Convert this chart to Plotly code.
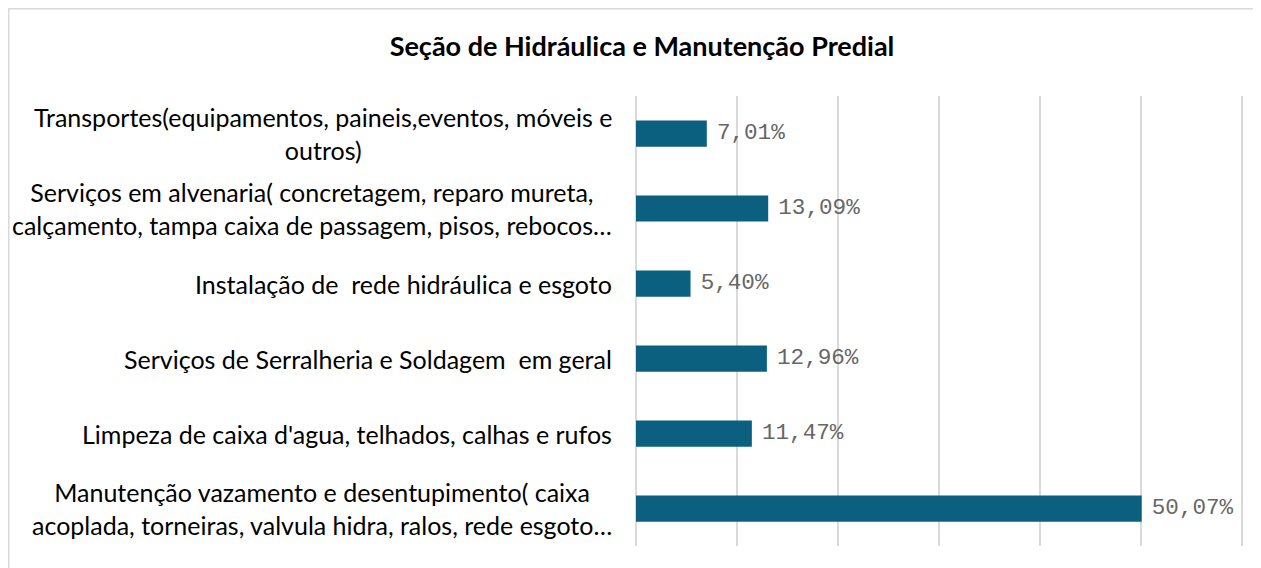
import plotly.graph_objects as go

title = "Seção de Hidráulica e Manutenção Predial"
categories = [
    "Transportes(equipamentos, paineis,eventos, móveis e<br>outros)",
    "Serviços em alvenaria( concretagem, reparo mureta,<br>calçamento, tampa caixa de passagem, pisos, rebocos…",
    "Instalação de  rede hidráulica e esgoto",
    "Serviços de Serralheria e Soldagem  em geral",
    "Limpeza de caixa d'agua, telhados, calhas e rufos",
    "Manutenção vazamento e desentupimento( caixa<br>acoplada, torneiras, valvula hidra, ralos, rede esgoto…",
]
values = [7.01, 13.09, 5.40, 12.96, 11.47, 50.07]
x_ticks = [0, 10, 20, 30, 40, 50, 60]

# The page body has an 8px default margin, so the figure starts at (8, 8).
OFF = 8
W, H = 1261 - OFF, 568 - OFF
X_MAX = 60.3
pw = round(606 * X_MAX / 60)
ml, mt, mb = 636 - OFF, 96 - OFF, 568 - 546
mr = W - ml - pw
ph = H - mt - mb

fig = go.Figure()
fig.add_trace(go.Bar(
    y=categories, x=values, orientation="h",
    marker=dict(color="#0B5F7F", line=dict(width=0)),
    width=0.35,
    texttemplate='<span style="font-size:13px"> </span>%{x:.2f}%',
    textposition="outside",
    textfont=dict(family="Liberation Mono", size=25, color="#666666"),
    cliponaxis=False,
))

for c in categories:
    fig.add_annotation(
        x=0, xref="paper", y=c, yref="y",
        text=c, showarrow=False, xanchor="right", align="center",
        xshift=-22,
        font=dict(family="Lato", size=25, color="#000000"),
    )

fig.add_shape(type="rect", xref="paper", yref="paper",
              x0=(0.75 - ml) / pw, x1=(W + 40 - ml) / pw,
              y0=-40 / ph, y1=(H - mb - 0.75) / ph,
              line=dict(color="#D9D9D9", width=1.5), layer="below")

fig.update_layout(
    width=W, height=H,
    margin=dict(l=ml, r=mr, t=mt, b=mb),
    paper_bgcolor="white", plot_bgcolor="white",
    separators=",.",
    showlegend=False,
    title=dict(text="<b>" + title + "</b>", x=(642 - OFF) / W, xanchor="center",
               y=1 - (47 - OFF) / H, yanchor="middle",
               font=dict(family="Lato", size=27, color="#000000")),
    xaxis=dict(range=[0, X_MAX], tickvals=x_ticks, showticklabels=False,
               showgrid=True, gridcolor="#D9D9D9", gridwidth=1.5,
               zeroline=True, zerolinecolor="#D9D9D9", zerolinewidth=1.5,
               showline=False, fixedrange=True),
    yaxis=dict(autorange="reversed", showticklabels=False, showgrid=False,
               zeroline=False, showline=False),
)

fig.write_html("out.html")
